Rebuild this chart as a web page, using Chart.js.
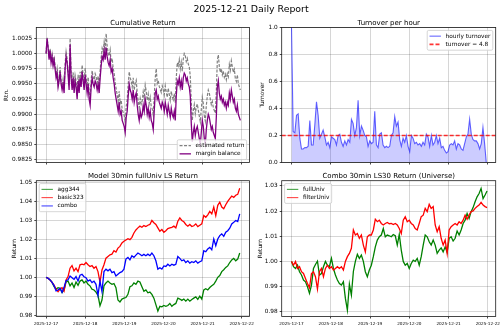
<!DOCTYPE html>
<html>
<head>
<meta charset="utf-8">
<script src="https://cdn.jsdelivr.net/npm/chart.js@4.4.1/dist/chart.umd.min.js"></script>
<style>
body { margin: 0; background: #fff; }
#wrap { position: relative; width: 500px; height: 330px; overflow: hidden; }
canvas { position: absolute; left: 0; top: 0; }
#title { position: absolute; left: 1px; top: 2.6px; width: 500px; text-align: center;
         font: 9.4px "DejaVu Sans"; line-height: 11px; color: #000; }
</style>
</head>
<body>
<div id="wrap">
<canvas id="cum" width="500" height="330"></canvas>
<canvas id="turn" width="500" height="330"></canvas>
<canvas id="model" width="500" height="330"></canvas>
<canvas id="univ" width="500" height="330"></canvas>
<div id="title">2025-12-21 Daily Report</div>
</div>
<script>
// x axis: days since 2025-12-17 00:00
const xTickDays = [0, 1, 2, 3, 4, 5];
const xTickLabels = ['2025-12-17', '2025-12-18', '2025-12-19', '2025-12-20', '2025-12-21', '2025-12-22'];

// cumulative return (sampled), spanning cumSpan days
const cumSpan = 4.966;
const estimatedReturn = [
1.0000,1.0026,1.0012,0.9993,1.0008,0.9988,0.9999,0.9984,0.9995,0.9979,
0.9965,0.9975,0.9950,0.9962,0.9978,0.9956,0.9946,0.9958,0.9941,0.9983,
1.0003,0.9992,0.9972,0.9948,1.0025,0.9968,0.9948,0.9969,0.9943,0.9964,
0.9954,0.9933,0.9965,0.9944,0.9970,0.9955,0.9981,0.9965,0.9950,0.9976,
0.9961,0.9946,0.9961,0.9936,0.9926,0.9957,0.9972,0.9961,0.9957,0.9967,
0.9962,0.9952,0.9963,0.9947,0.9973,0.9993,1.0009,1.0004,1.0019,1.0005,
1.0033,1.0012,1.0001,0.9996,1.0006,0.9986,0.9992,0.9976,0.9967,0.9952,
0.9942,0.9932,0.9922,0.9938,0.9918,0.9923,0.9908,0.9903,0.9898,0.9888,
0.9913,0.9924,0.9949,0.9970,0.9960,0.9955,0.9945,0.9960,0.9940,0.9951,
0.9956,0.9936,0.9921,0.9911,0.9926,0.9917,0.9922,0.9937,0.9927,0.9948,
0.9938,0.9923,0.9933,0.9918,0.9928,0.9913,0.9909,0.9899,0.9929,0.9960,
0.9975,0.9951,0.9956,0.9946,0.9941,0.9936,0.9947,0.9942,0.9932,0.9947,
0.9937,0.9928,0.9943,0.9933,0.9923,0.9938,0.9929,0.9924,0.9934,0.9919,
0.9960,0.9985,0.9980,0.9990,0.9975,0.9986,0.9971,0.9991,1.0000,0.9997,
0.9987,0.9992,0.9983,0.9978,0.9963,0.9920,0.9890,0.9906,0.9916,0.9901,
0.9912,0.9917,0.9907,0.9897,0.9888,0.9908,0.9928,0.9918,0.9898,0.9889,
0.9914,0.9930,0.9940,0.9935,0.9925,0.9916,0.9921,0.9911,0.9906,0.9902,
0.9937,0.9988,0.9998,0.9979,0.9969,0.9975,0.9965,0.9971,0.9961,0.9966,
0.9957,0.9967,0.9962,0.9982,0.9973,0.9988,0.9978,0.9969,0.9974,0.9959,
0.9954,0.9965,0.9950,0.9945,0.9940];
const marginBalance = [
1.0000,1.0025,1.0010,0.9990,1.0005,0.9985,0.9995,0.9980,0.9990,0.9975,
0.9960,0.9968,0.9945,0.9955,0.9970,0.9950,0.9940,0.9950,0.9935,0.9975,
0.9995,0.9985,0.9965,0.9940,1.0015,0.9960,0.9940,0.9960,0.9935,0.9955,
0.9945,0.9925,0.9955,0.9935,0.9960,0.9945,0.9970,0.9955,0.9940,0.9965,
0.9950,0.9935,0.9950,0.9925,0.9915,0.9945,0.9960,0.9950,0.9945,0.9955,
0.9950,0.9940,0.9950,0.9935,0.9960,0.9980,0.9995,0.9990,1.0005,0.9990,
1.0010,0.9995,0.9985,0.9980,0.9990,0.9970,0.9975,0.9960,0.9950,0.9935,
0.9925,0.9915,0.9905,0.9920,0.9900,0.9905,0.9890,0.9885,0.9880,0.9870,
0.9895,0.9905,0.9930,0.9950,0.9940,0.9935,0.9925,0.9940,0.9920,0.9930,
0.9935,0.9915,0.9900,0.9890,0.9905,0.9895,0.9900,0.9915,0.9905,0.9925,
0.9915,0.9900,0.9910,0.9895,0.9905,0.9890,0.9885,0.9875,0.9905,0.9935,
0.9940,0.9925,0.9930,0.9920,0.9915,0.9910,0.9920,0.9915,0.9905,0.9920,
0.9910,0.9900,0.9915,0.9905,0.9895,0.9910,0.9900,0.9895,0.9905,0.9890,
0.9930,0.9955,0.9950,0.9960,0.9945,0.9955,0.9940,0.9960,0.9968,0.9965,
0.9955,0.9960,0.9950,0.9945,0.9930,0.9885,0.9855,0.9870,0.9880,0.9865,
0.9875,0.9880,0.9870,0.9860,0.9850,0.9870,0.9890,0.9880,0.9860,0.9850,
0.9875,0.9890,0.9900,0.9895,0.9885,0.9875,0.9880,0.9870,0.9865,0.9860,
0.9895,0.9945,0.9955,0.9935,0.9925,0.9930,0.9920,0.9925,0.9915,0.9920,
0.9910,0.9920,0.9915,0.9935,0.9925,0.9940,0.9930,0.9920,0.9925,0.9910,
0.9905,0.9915,0.9900,0.9895,0.9890];
const cumYTicks = [0.9825, 0.9850, 0.9875, 0.9900, 0.9925, 0.9950, 0.9975, 1.0000, 1.0025];

// hourly turnover
const turnSpan = 4.96;
const hourlyTurnover = [
1.0,0.23,0.22,0.35,0.36,0.18,0.10,0.10,0.11,0.11,
0.12,0.31,0.13,0.13,0.28,0.45,0.35,0.18,0.21,0.24,
0.19,0.13,0.15,0.11,0.19,0.18,0.17,0.13,0.20,0.21,
0.15,0.12,0.16,0.13,0.17,0.15,0.32,0.29,0.20,0.26,
0.46,0.20,0.27,0.24,0.20,0.19,0.12,0.16,0.14,0.15,
0.38,0.13,0.11,0.21,0.22,0.13,0.11,0.12,0.11,0.12,
0.20,0.22,0.34,0.27,0.30,0.17,0.12,0.18,0.15,0.20,
0.12,0.08,0.20,0.18,0.14,0.15,0.13,0.14,0.12,0.15,
0.13,0.21,0.19,0.12,0.20,0.13,0.15,0.20,0.14,0.18,
0.11,0.12,0.09,0.07,0.08,0.13,0.14,0.13,0.16,0.10,
0.14,0.13,0.10,0.09,0.14,0.19,0.21,0.32,0.21,0.17,
0.16,0.16,0.14,0.10,0.14,0.26,0.14,0.0];
const dailyTurnover = 4.8;
const turnYTicks = [0, 0.2, 0.4, 0.6, 0.8, 1.0];

// model 30min fullUniv LS return
const modelSpan = 4.95;
const agg344 = [
1.0000,0.9995,0.9986,0.9973,0.9950,0.9938,0.9945,0.9942,0.9920,0.9933,
0.9975,0.9980,0.9955,0.9970,0.9946,0.9975,0.9957,0.9980,0.9986,0.9970,
0.9980,0.9963,0.9955,0.9937,0.9933,0.9922,0.9905,0.9850,0.9880,0.9955,
0.9970,0.9980,0.9970,0.9963,0.9967,0.9945,0.9880,0.9870,0.9885,0.9890,
0.9893,0.9910,0.9950,0.9955,0.9970,0.9963,0.9980,0.9975,0.9950,0.9926,
0.9933,0.9918,0.9922,0.9910,0.9890,0.9856,0.9822,0.9847,0.9844,0.9851,
0.9847,0.9851,0.9862,0.9847,0.9856,0.9862,0.9890,0.9885,0.9878,0.9885,
0.9874,0.9885,0.9874,0.9883,0.9890,0.9897,0.9883,0.9900,0.9885,0.9933,
0.9940,0.9933,0.9946,0.9955,0.9963,0.9980,1.0000,1.0009,1.0030,1.0040,
1.0052,1.0060,1.0078,1.0092,1.0100,1.0087,1.0096,1.0128];
const basic323 = [
1.0000,0.9995,0.9986,0.9973,0.9959,0.9938,0.9924,0.9938,0.9945,0.9927,
0.9986,1.0004,1.0048,1.0062,1.0034,1.0048,1.0030,1.0066,1.0069,1.0066,
1.0078,1.0066,1.0057,1.0062,1.0048,1.0057,1.0030,0.9975,1.0039,1.0066,
1.0101,1.0110,1.0119,1.0122,1.0140,1.0133,1.0154,1.0163,1.0181,1.0190,
1.0197,1.0204,1.0199,1.0211,1.0234,1.0250,1.0261,1.0270,1.0264,1.0273,
1.0268,1.0275,1.0279,1.0300,1.0288,1.0279,1.0261,1.0243,1.0252,1.0238,
1.0246,1.0257,1.0261,1.0264,1.0270,1.0261,1.0296,1.0314,1.0300,1.0293,
1.0279,1.0270,1.0279,1.0268,1.0272,1.0282,1.0268,1.0275,1.0282,1.0326,
1.0317,1.0330,1.0348,1.0335,1.0371,1.0326,1.0380,1.0397,1.0371,1.0362,
1.0383,1.0401,1.0415,1.0429,1.0422,1.0433,1.0438,1.0470];
const combo = [
1.0000,0.9995,0.9986,0.9973,0.9956,0.9928,0.9933,0.9942,0.9920,0.9947,
0.9982,0.9987,1.0007,0.9998,0.9989,1.0004,0.9980,1.0011,1.0016,1.0003,
0.9998,0.9980,0.9986,0.9972,0.9980,0.9963,0.9905,0.9980,0.9925,1.0030,
1.0043,1.0034,1.0043,1.0025,1.0030,1.0007,1.0016,1.0025,1.0030,1.0043,
1.0096,1.0105,1.0092,1.0114,1.0105,1.0117,1.0128,1.0122,1.0114,1.0121,
1.0114,1.0122,1.0114,1.0128,1.0114,1.0087,1.0043,1.0050,1.0043,1.0060,
1.0057,1.0069,1.0060,1.0069,1.0064,1.0069,1.0110,1.0100,1.0087,1.0092,
1.0078,1.0087,1.0075,1.0082,1.0078,1.0087,1.0075,1.0082,1.0087,1.0140,
1.0135,1.0150,1.0158,1.0145,1.0202,1.0167,1.0202,1.0220,1.0229,1.0216,
1.0238,1.0246,1.0259,1.0282,1.0290,1.0300,1.0294,1.0335];
const modelYTicks = [0.98, 0.99, 1.00, 1.01, 1.02, 1.03, 1.04, 1.05];

// combo 30min LS30 return by universe
const univSpan = 4.98;
const fullUniv = [
1.0000,0.9979,0.9972,0.9985,0.9959,0.9946,0.9926,0.9919,0.9899,0.9873,
0.9906,0.9972,0.9988,1.0001,0.9946,0.9952,0.9979,1.0000,0.9985,0.9979,
1.0012,0.9972,0.9946,0.9926,0.9912,0.9906,0.9919,0.9853,0.9806,0.9910,
0.9866,0.9960,1.0000,1.0028,1.0012,1.0025,1.0000,0.9959,0.9939,0.9966,
0.9985,1.0019,1.0058,1.0085,1.0098,1.0105,1.0131,1.0098,1.0105,1.0102,
1.0098,1.0107,1.0102,1.0065,1.0107,1.0045,1.0000,0.9985,0.9992,0.9972,
0.9992,1.0005,1.0000,1.0012,0.9985,1.0019,1.0065,1.0105,1.0098,1.0078,
1.0065,1.0085,1.0065,1.0032,1.0045,1.0054,1.0038,1.0058,1.0036,1.0092,
1.0098,1.0081,1.0092,1.0121,1.0105,1.0125,1.0151,1.0164,1.0191,1.0171,
1.0198,1.0214,1.0237,1.0257,1.0270,1.0290,1.0250,1.0264,1.0280];
const filterUniv = [
1.0000,0.9985,1.0000,0.9972,0.9979,0.9959,0.9952,0.9932,0.9912,0.9895,
0.9952,0.9959,0.9939,0.9890,0.9959,0.9972,0.9939,0.9972,0.9985,0.9972,
0.9979,0.9966,0.9972,0.9979,0.9972,0.9979,0.9966,1.0000,1.0019,1.0032,
1.0052,1.0125,1.0105,1.0111,1.0092,1.0105,1.0065,1.0038,1.0098,1.0105,
1.0105,1.0125,1.0168,1.0158,1.0164,1.0151,1.0145,1.0151,1.0155,1.0150,
1.0151,1.0147,1.0151,1.0145,1.0131,1.0111,1.0164,1.0178,1.0158,1.0164,
1.0151,1.0145,1.0131,1.0125,1.0151,1.0178,1.0184,1.0211,1.0198,1.0227,
1.0211,1.0218,1.0145,1.0118,1.0138,1.0092,1.0065,1.0085,1.0032,1.0125,
1.0138,1.0145,1.0151,1.0145,1.0158,1.0151,1.0164,1.0184,1.0168,1.0184,
1.0198,1.0201,1.0211,1.0218,1.0224,1.0235,1.0224,1.0218,1.0214];
const univYTicks = [0.98, 0.99, 1.00, 1.01, 1.02, 1.03];

const xMin = -0.25, xMax = 5.2;
const gridColor = 'rgba(0,0,0,0.16)';

Chart.defaults.font.family = '"DejaVu Sans", sans-serif';
Chart.defaults.color = '#000';

function series(values, span)
{
    return values.map((v, i) => ({x: i * span / (values.length - 1), y: v}));
}

// frame, subplot title and a matplotlib-like legend inside the axes
const axesPlugin = {
    id: 'axesBox',
    afterDraw(chart, args, o)
    {
        const ctx = chart.ctx, a = chart.chartArea;
        ctx.save();
        ctx.strokeStyle = '#1a1a1a';
        ctx.lineWidth = 0.8;
        ctx.strokeRect(a.left, a.top, a.right - a.left, a.bottom - a.top);

        ctx.fillStyle = '#000';
        ctx.font = '7px "DejaVu Sans"';
        ctx.textAlign = 'center';
        ctx.textBaseline = 'middle';
        ctx.fillText(o.title, (a.left + a.right) / 2, a.top - 4.8);

        const sets = chart.data.datasets;
        ctx.font = '5.8px "DejaVu Sans"';
        const rowH = 8.3, pad = 2.3, handle = 11.4, gap = 4.6, inset = 2.9;
        const textW = Math.max(...sets.map(d => ctx.measureText(d.label).width));
        const w = pad + handle + gap + textW + pad;
        const h = sets.length * rowH + 3.2;
        const x = o.loc.includes('right') ? a.right - inset - w : a.left + inset;
        const y = o.loc.includes('lower') ? a.bottom - inset - h : a.top + inset;
        ctx.beginPath();
        ctx.roundRect(x, y, w, h, 1.5);
        ctx.fillStyle = 'rgba(255,255,255,0.8)';
        ctx.fill();
        ctx.strokeStyle = '#cccccc';
        ctx.lineWidth = 0.8;
        ctx.stroke();
        sets.forEach((d, i) => {
            const cy = y + 1.6 + rowH * (i + 0.5);
            ctx.beginPath();
            ctx.setLineDash(d.borderDash || []);
            ctx.strokeStyle = d.borderColor;
            ctx.lineWidth = d.borderWidth;
            ctx.moveTo(x + pad, cy);
            ctx.lineTo(x + pad + handle, cy);
            ctx.stroke();
            ctx.setLineDash([]);
            ctx.fillStyle = '#000';
            ctx.textAlign = 'left';
            ctx.fillText(d.label, x + pad + handle + gap, cy);
        });
        ctx.restore();
    }
};

function xAxis(showLabels)
{
    return {
        type: 'linear', min: xMin, max: xMax,
        afterBuildTicks: s => { s.ticks = xTickDays.map(v => ({value: v})); },
        afterFit: s => { s.height = 10; s.paddingLeft = 0; s.paddingRight = 0; },
        grid: {color: gridColor, lineWidth: 1, tickLength: 2, tickColor: '#1a1a1a', tickWidth: 0.8},
        border: {display: false},
        ticks: {autoSkip: false, maxRotation: 0, padding: 3, font: {size: 4.2},
                callback: (v, i) => showLabels ? xTickLabels[i] : ''}
    };
}

function yAxis(min, max, ticks, digits, width, label, labelPad)
{
    return {
        min: min, max: max,
        afterBuildTicks: s => { s.ticks = ticks.map(v => ({value: v})); },
        afterFit: s => { s.width = width; s.paddingTop = 0; s.paddingBottom = 0; },
        grid: {color: gridColor, lineWidth: 1, tickLength: 2, tickColor: '#1a1a1a', tickWidth: 0.8},
        border: {display: false},
        ticks: {padding: 2, font: {size: 5.8}, callback: v => v.toFixed(digits)},
        title: {display: true, text: label, font: {size: 5.8}, padding: {top: labelPad, bottom: 0}}
    };
}

function makeChart(id, datasets, padding, scales, box)
{
    return new Chart(document.getElementById(id), {
        type: 'line',
        data: {datasets: datasets},
        options: {
            responsive: false, animation: false, devicePixelRatio: 1, events: [],
            layout: {padding: padding},
            elements: {point: {radius: 0}, line: {borderWidth: 1.3, tension: 0}},
            scales: scales,
            plugins: {legend: {display: false}, tooltip: {enabled: false}, axesBox: box}
        },
        plugins: [axesPlugin]
    });
}

makeChart('cum', [
    {label: 'estimated return', data: series(estimatedReturn, cumSpan), borderColor: '#808080',
     borderDash: [3, 1.5], borderWidth: 1.2, order: 1},
    {label: 'margin balance', data: series(marginBalance, cumSpan), borderColor: '#800080',
     borderWidth: 1.3, order: 0}
], {left: 0, right: 250.5, top: 27.5, bottom: 157.5},
{x: xAxis(false), y: yAxis(0.98206, 1.0043, cumYTicks, 4, 36.3, 'Rtn.', 2.6)},
{title: 'Cumulative Return', loc: 'lower right'});

makeChart('turn', [
    {label: 'hourly turnover', data: series(hourlyTurnover, turnSpan), borderColor: 'rgba(0,0,255,0.6)',
     backgroundColor: 'rgba(0,0,255,0.2)', fill: 'origin', borderWidth: 1.1, order: 1},
    {label: 'turnover = ' + dailyTurnover,
     data: [{x: xMin, y: dailyTurnover / 24}, {x: xMax, y: dailyTurnover / 24}],
     borderColor: 'rgba(255,0,0,0.8)', borderDash: [4, 2], borderWidth: 1.7, order: 0}
], {left: 250, right: 4.3, top: 27.5, bottom: 157.5},
{x: xAxis(false), y: yAxis(0, 1, turnYTicks, 1, 31.7, 'Turnover', 9.3)},
{title: 'Turnover per hour', loc: 'upper right'});

makeChart('model', [
    {label: 'agg344', data: series(agg344, modelSpan), borderColor: '#008000', order: 2},
    {label: 'basic323', data: series(basic323, modelSpan), borderColor: '#ff0000', order: 1},
    {label: 'combo', data: series(combo, modelSpan), borderColor: '#0000ff', order: 0}
], {left: 0, right: 250.5, top: 180.7, bottom: 3.5},
{x: xAxis(true), y: yAxis(0.9793, 1.0510, modelYTicks, 2, 36.3, 'Return', 10.6)},
{title: 'Model 30min fullUniv LS Return', loc: 'upper left'});

makeChart('univ', [
    {label: 'fullUniv', data: series(fullUniv, univSpan), borderColor: '#008000', order: 1},
    {label: 'filterUniv', data: series(filterUniv, univSpan), borderColor: '#ff0000', order: 0}
], {left: 250, right: 4.3, top: 180.7, bottom: 3.5},
{x: xAxis(true), y: yAxis(0.9781, 1.0321, univYTicks, 2, 31.7, 'Return', 6.6)},
{title: 'Combo 30min LS30 Return (Universe)', loc: 'upper left'});
</script>
</body>
</html>
